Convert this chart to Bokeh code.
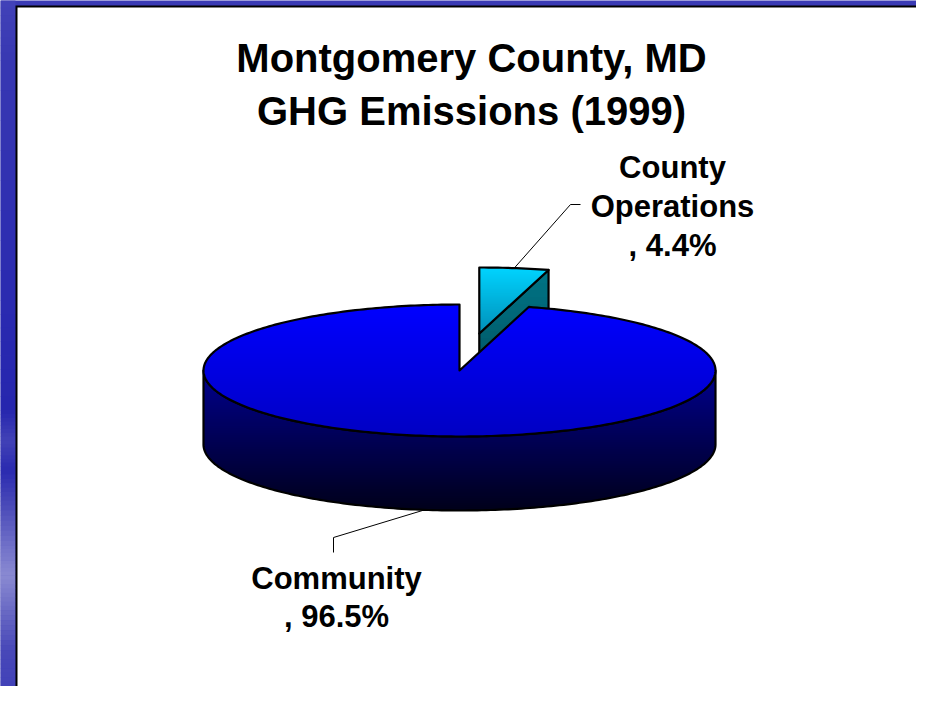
import math
from bokeh.plotting import figure
from bokeh.models import Range1d
from bokeh.core.properties import value
from bokeh.embed import file_html
from bokeh.resources import INLINE

# ---------------- data ----------------
title_lines = ["Montgomery County, MD", "GHG Emissions (1999)"]
categories = ["County Operations", "Community"]
values = [4.4, 96.5]
explode = [0.566, 0.0]

# ---------------- layout / style ----------------
W, H = 916, 686
CX, CY = 459.0, 370.0    # pie centre (px)
RX, RY = 256.0, 66.0     # ellipse radii
DEPTH = 74.0
FONT = "Liberation Sans"

top_grad = [("#00D4FF", "#008FB8"), ("#0000FF", "#0000C4")]
side_grad = [("#007586", "#004A5A"), ("#00008E", "#00001A")]

p = figure(width=W, height=H, output_backend="svg", toolbar_location=None,
           x_range=Range1d(0, W), y_range=Range1d(H, 0),
           min_border=0, outline_line_color=None)
p.axis.visible = False
p.grid.visible = False
p.background_fill_color = "#3a3ab4"
p.border_fill_color = "#3a3ab4"


def hex2rgb(h):
    h = h.lstrip("#")
    return [int(h[i:i + 2], 16) for i in (0, 2, 4)]


def lerp_col(c0, c1, t):
    a, b = hex2rgb(c0), hex2rgb(c1)
    t = max(0.0, min(1.0, t))
    return "#%02x%02x%02x" % tuple(int(round(a[i] + (b[i] - a[i]) * t)) for i in range(3))


# left strip background gradient (y, colour)
bg_stops = [(0, "#4242b8"), (60, "#3838b2"), (300, "#2a2ab0"), (410, "#2626ae"),
            (440, "#4242b6"), (470, "#2a2ab0"), (505, "#4a4ab8"), (545, "#7070c8"),
            (575, "#8a8ad2"), (610, "#6a6ac4"), (650, "#4848b8"), (686, "#4242b8")]
bx, by, bw, bh, bc = [], [], [], [], []
for i in range(len(bg_stops) - 1):
    ya, ca = bg_stops[i]
    yb, cb = bg_stops[i + 1]
    n = 8
    for k in range(n):
        y_a = ya + (yb - ya) * k / n
        y_b = ya + (yb - ya) * (k + 1) / n
        bx.append(7.5); bw.append(15); by.append((y_a + y_b) / 2); bh.append(y_b - y_a + 0.6)
        bc.append(lerp_col(ca, cb, (k + 0.5) / n))
p.rect(x=bx, y=by, width=bw, height=bh, fill_color=bc, line_color=None)

# white panel with dark border
p.quad(left=15, right=W + 10, top=5, bottom=H + 10, fill_color="#000000", line_color=None)
p.quad(left=17, right=W + 10, top=7, bottom=H + 10, fill_color="#ffffff", line_color=None)


def clip(pts, inside, inter):
    out = []
    n = len(pts)
    for i in range(n):
        cur, prev = pts[i], pts[i - 1]
        if inside(cur):
            if not inside(prev):
                out.append(inter(prev, cur))
            out.append(cur)
        elif inside(prev):
            out.append(inter(prev, cur))
    return out


def yint(c):
    def f(a, b):
        t = (c - a[1]) / (b[1] - a[1])
        return (a[0] + t * (b[0] - a[0]), c)
    return f


def gradient_fill(pts, c_top, c_bot, nstrip=48):
    ys = [q[1] for q in pts]
    ymin, ymax = min(ys), max(ys)
    xs_l, ys_l, cols = [], [], []
    for k in range(nstrip):
        ya = ymin + (ymax - ymin) * k / nstrip
        yb = ymin + (ymax - ymin) * (k + 1) / nstrip
        a, b = ya - 0.4, yb + 0.4
        poly = clip(pts, lambda q: q[1] >= a, yint(a))
        if len(poly) < 3:
            continue
        poly = clip(poly, lambda q: q[1] <= b, yint(b))
        if len(poly) < 3:
            continue
        xs_l.append([q[0] for q in poly])
        ys_l.append([q[1] for q in poly])
        cols.append(lerp_col(c_top, c_bot, (k + 0.5) / nstrip))
    p.patches(xs=xs_l, ys=ys_l, fill_color=cols, line_color=None)


def pt(cx, cy, ang, dz=0.0):
    r = math.radians(ang)
    return (cx + RX * math.cos(r), cy - RY * math.sin(r) + dz)


def arc(cx, cy, a0, a1, dz=0.0, step=1.0):
    n = max(2, int(abs(a1 - a0) / step) + 1)
    return [pt(cx, cy, a0 + (a1 - a0) * i / (n - 1), dz) for i in range(n)]


total = sum(values)
slices = []
start = 90.0
for i, v in enumerate(values):
    sweep = v / total * 360.0
    a0, a1 = start, start - sweep       # clockwise
    mid = (a0 + a1) / 2
    e = explode[i]
    cx = CX + e * RX * math.cos(math.radians(mid))
    cy = CY - e * RY * math.sin(math.radians(mid))
    slices.append(dict(a0=a0, a1=a1, mid=mid, cx=cx, cy=cy))
    start = a1

OL = dict(line_color="#000000", line_width=2.2, line_join="round")

# --- draw exploded (back) slice first, then the big slice
order = sorted(range(len(values)), key=lambda i: -explode[i])
for i in order:
    s = slices[i]
    cx, cy, a0, a1 = s["cx"], s["cy"], s["a0"], s["a1"]
    if abs(a1 - a0) < 180:
        r1 = pt(cx, cy, a1)
        face = [(cx, cy), r1, (r1[0], r1[1] + DEPTH), (cx, cy + DEPTH)]
        gradient_fill(face, side_grad[i][0], side_grad[i][1], 20)
        p.patch(x=[q[0] for q in face], y=[q[1] for q in face], fill_alpha=0, **OL)
    lo, hi = min(a0, a1), max(a0, a1)
    f0, f1 = max(lo, -180.0), min(hi, 0.0)
    if f1 > f0:
        front = arc(cx, cy, f0, f1)
        bottom = arc(cx, cy, f1, f0, DEPTH)
        side = front + bottom
        gradient_fill(side, side_grad[i][0], side_grad[i][1], 60)
        p.patch(x=[q[0] for q in side], y=[q[1] for q in side], fill_alpha=0, **OL)
    top = [(cx, cy)] + arc(cx, cy, a0, a1)
    gradient_fill(top, top_grad[i][0], top_grad[i][1], 60)
    p.patch(x=[q[0] for q in top], y=[q[1] for q in top], fill_alpha=0, **OL)

# --- leader lines and labels (y = cap centre of each line)
lab_cfg = {
    0: dict(src="top", bend=[(570, 204), (580, 204)], tx=672, ty=[167, 206, 245]),
    1: dict(src="bottom", bend=[(333, 537), (333, 552)], tx=336, ty=[578, 616]),
}
for i, cat in enumerate(categories):
    s = slices[i]
    cfg = lab_cfg[i]
    dz = 0.0 if cfg["src"] == "top" else DEPTH
    a = pt(s["cx"], s["cy"], s["mid"], dz)
    lx = [a[0]] + [q[0] for q in cfg["bend"]]
    ly = [a[1]] + [q[1] for q in cfg["bend"]]
    p.line(x=lx, y=ly, line_color="#000000", line_width=1)
    words = cat.split(" ") if len(cat) > 12 else [cat]
    lines = words + [", %.1f%%" % values[i]]
    p.text(x=[cfg["tx"]] * len(lines), y=cfg["ty"], text=lines,
           text_font=value(FONT), text_font_style="bold", text_font_size="31px",
           text_align="center", text_baseline="middle", text_color="#000000")

# --- title
p.text(x=[471, 471], y=[57, 110], text=title_lines, text_font=value(FONT),
       text_font_style="bold", text_font_size="40px", text_align="center",
       text_baseline="middle", text_color="#000000")

open("out.html", "w").write(file_html(p, INLINE))
